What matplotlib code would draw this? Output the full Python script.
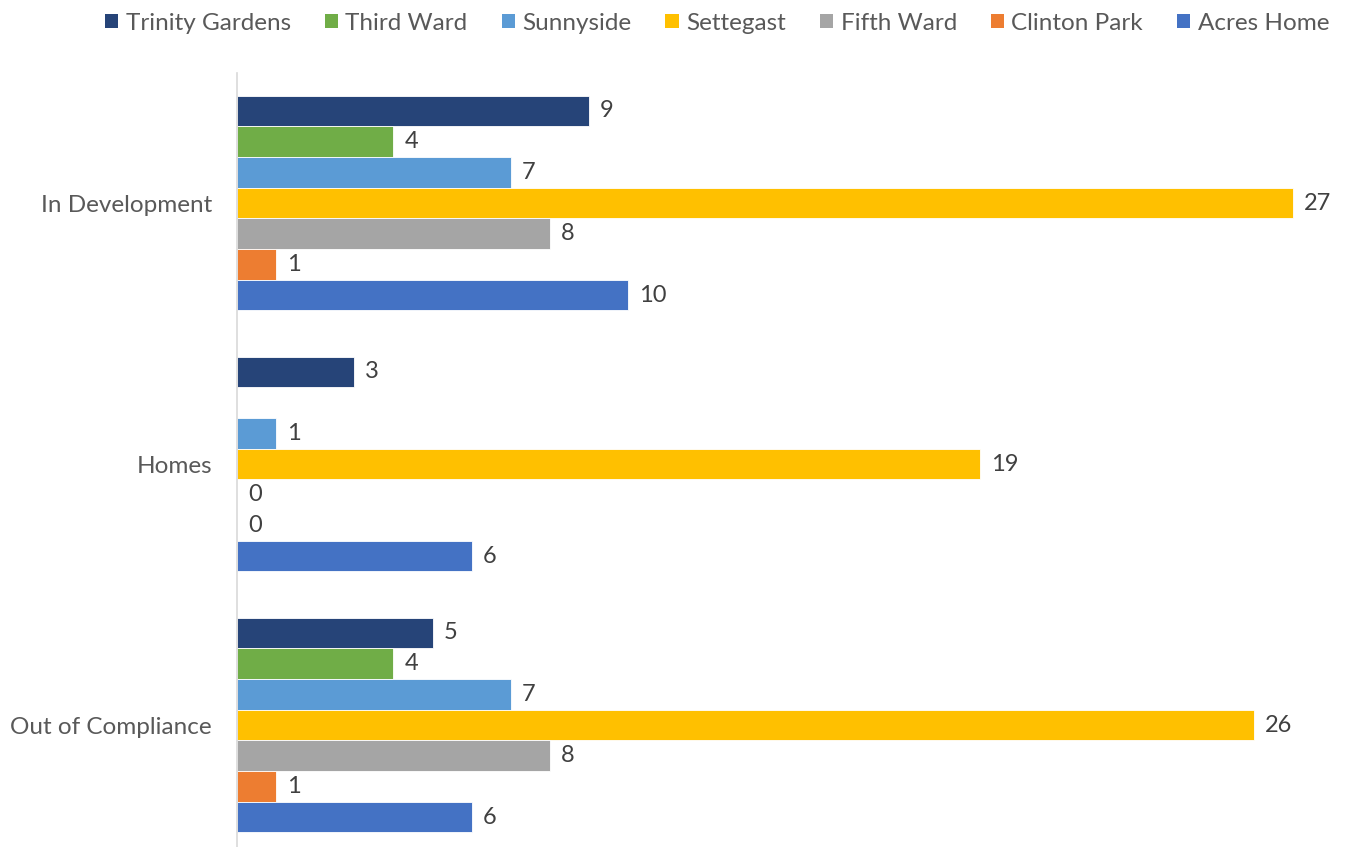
import numpy as np
import matplotlib.pyplot as plt
from matplotlib.patches import Patch

# categories top to bottom
categories = ["In Development", "Homes", "Out of Compliance"]
series = ["Trinity Gardens", "Third Ward", "Sunnyside", "Settegast",
          "Fifth Ward", "Clinton Park", "Acres Home"]
colors = ["#264478", "#70AD47", "#5B9BD5", "#FFC000",
          "#A5A5A5", "#ED7D31", "#4472C4"]

# values per series: In Development, Homes, Out of Compliance
trinity_gardens = [9, 3, 5]
third_ward = [4, np.nan, 4]
sunnyside = [7, 1, 7]
settegast = [27, 19, 26]
fifth_ward = [8, 0, 8]
clinton_park = [1, 0, 1]
acres_home = [10, 6, 6]
values = [trinity_gardens, third_ward, sunnyside, settegast,
          fifth_ward, clinton_park, acres_home]

plt.rcParams['font.family'] = ['Lato', 'DejaVu Sans']

fig = plt.figure(figsize=(13.48, 8.47), dpi=100)
ax = fig.add_axes([237 / 1348, (847 - 855.5) / 847, 1103 / 1348, 783 / 847])

y = np.arange(len(categories))
h = 30.7 / 261
for i, (name, vals, col) in enumerate(zip(series, values, colors)):
    pos = y + (i - 3) * h
    bars = ax.barh(pos, vals, height=h, color=col, edgecolor="white", linewidth=0.6)
    labels = ["" if np.isnan(v) else f"{int(v)}" for v in vals]
    ax.bar_label(bars, labels=labels, padding=8, fontsize=17, color="#404040")

ax.set_xlim(0, 1103 / 39.1)
ax.set_ylim(2.5, -0.5)
ax.set_yticks(y)
ax.set_yticklabels(categories, fontsize=17.5, color="#595959")
ax.tick_params(axis="y", length=0, pad=18)
ax.set_xticks([])
for s in ["top", "right", "bottom"]:
    ax.spines[s].set_visible(False)
ax.spines["left"].set_color("#D9D9D9")
ax.spines["left"].set_linewidth(1.2)

handles = [Patch(facecolor=c, edgecolor="none") for c in colors]
fig.legend(handles, series, loc="center", bbox_to_anchor=(0.532, 1 - 23 / 847),
           ncol=7, frameon=False, fontsize=17.5, labelcolor="#595959",
           handlelength=0.55, handleheight=0.55, handletextpad=0.3, columnspacing=1.4)

fig.savefig("out.png", dpi=100)
